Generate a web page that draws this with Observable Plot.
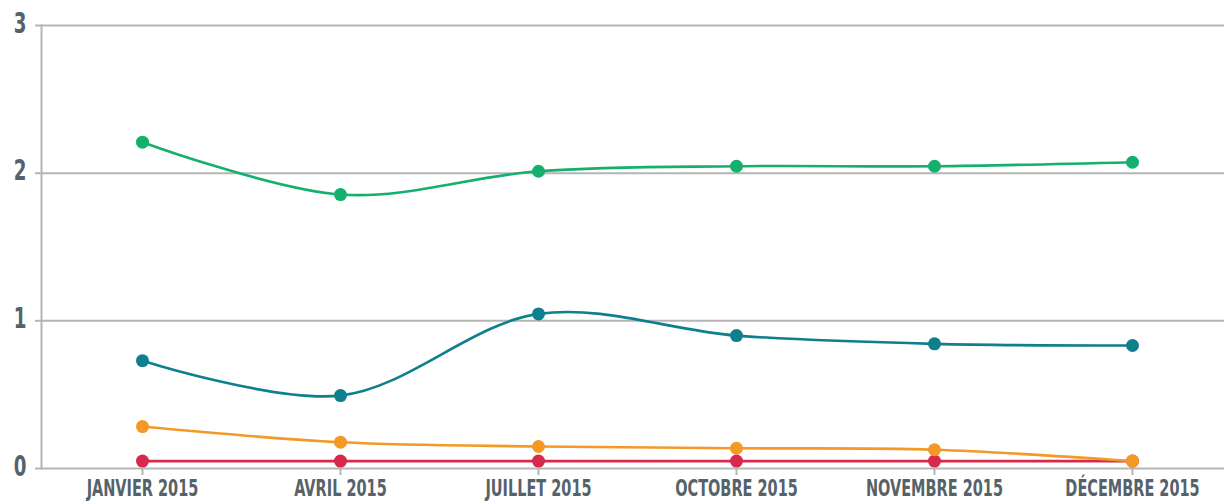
<!DOCTYPE html>
<html>
<head>
<meta charset="utf-8">
<script src="https://cdn.jsdelivr.net/npm/d3@7"></script>
<script src="https://cdn.jsdelivr.net/npm/@observablehq/plot@0.6"></script>
<style>
  html, body { margin: 0; padding: 0; background: #fff; }
  #chart svg { display: block; }
</style>
</head>
<body>
<div id="chart"></div>
<script>
const months = ["JANVIER 2015", "AVRIL 2015", "JUILLET 2015", "OCTOBRE 2015", "NOVEMBRE 2015", "DÉCEMBRE 2015"];
const seriesNames = ["Rouge", "Orange", "Bleu", "Vert"];
const seriesColors = ["#d6294b", "#f39a26", "#0e7f8c", "#15b06d"];
const redValues = [0.05, 0.05, 0.05, 0.05, 0.05, 0.05];
const orangeValues = [0.284, 0.178, 0.149, 0.137, 0.127, 0.05];
const tealValues = [0.73, 0.494, 1.047, 0.90, 0.844, 0.833];
const greenValues = [2.21, 1.855, 2.013, 2.047, 2.047, 2.074];
const yTicks = [0, 1, 2, 3];

const seriesValues = [redValues, orangeValues, tealValues, greenValues];
const rows = seriesValues.flatMap((vals, s) =>
  vals.map((v, i) => ({series: seriesNames[s], month: months[i], value: v}))
);

const FONT = "'DejaVu Sans Condensed', 'DejaVu Sans', sans-serif";
const GRID = "#b5b5b5";
const TEXT = "#56626a";
const SQUEEZE = 0.7;

const marks = [
  Plot.ruleY(yTicks, {stroke: GRID, strokeWidth: 2}),
  Plot.frame({anchor: "left", stroke: GRID, strokeWidth: 2}),
  Plot.axisY(yTicks, {tickSize: 6, stroke: GRID, strokeWidth: 2, text: null, label: null}),
  Plot.axisY(yTicks, {tickSize: 0, tickPadding: 15, dy: -2, fill: TEXT, fontSize: 29, fontWeight: "bold", tickFormat: "d", label: null}),
  Plot.axisX(months, {tickSize: 7, stroke: GRID, strokeWidth: 2, text: null, label: null}),
  Plot.axisX(months, {tickSize: 0, tickPadding: 11, fill: TEXT, fontSize: 23, fontWeight: "bold", label: null})
];
seriesNames.forEach((name, s) => {
  const data = rows.filter(d => d.series === name);
  marks.push(Plot.line(data, {x: "month", y: "value", stroke: seriesColors[s], strokeWidth: 2.6, curve: "catmull-rom"}));
  marks.push(Plot.dot(data, {x: "month", y: "value", fill: seriesColors[s], r: 6.5}));
});

const chart = Plot.plot({
  width: 1224,
  height: 501,
  marginTop: 25,
  marginBottom: 33,
  marginLeft: 41,
  marginRight: 0,
  style: {fontFamily: FONT, background: "#fff", overflow: "visible"},
  x: {type: "point", domain: months, range: [141, 1132], padding: 0, axis: null},
  y: {domain: [0, 3], axis: null},
  marks
});
document.getElementById("chart").appendChild(chart);

// condensed look: squeeze axis label glyphs horizontally
d3.select(chart).selectAll("text").each(function () {
  const w = this.getComputedTextLength();
  if (w > 0) {
    this.setAttribute("textLength", (w * SQUEEZE).toFixed(1));
    this.setAttribute("lengthAdjust", "spacingAndGlyphs");
  }
});
</script>
</body>
</html>
